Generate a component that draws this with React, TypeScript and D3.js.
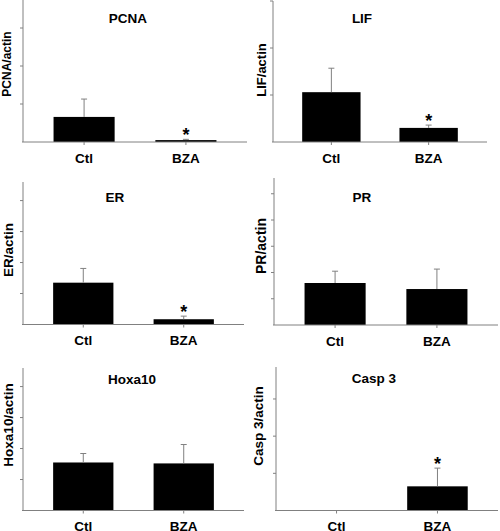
import React from "react";
import * as d3 from "d3";

// ---- data ----
const categories = ["Ctl", "BZA"];
const genes = ["PCNA", "LIF", "ER", "PR", "Hoxa10", "Casp 3"];
const yLabels = ["PCNA/actin", "LIF/actin", "ER/actin", "PR/actin", "Hoxa10/actin", "Casp 3/actin"];
const ctlMeans = [0.66, 1.06, 1.35, 1.6, 1.55, 0];
const ctlErrs = [0.47, 0.51, 0.46, 0.45, 0.29, 0];
const bzaMeans = [0.05, 0.3, 0.17, 1.37, 1.52, 0.65];
const bzaErrs = [0.02, 0.06, 0.1, 0.76, 0.61, 0.49];
const bzaSignificant = [true, true, true, false, false, true];
const yMaxes = [4, 3, 4.6, 5.6, 4.6, 3.86];

// ---- layout ----
const axisXs = [23, 273, 23, 274, 23, 276];
const xEnds = [247, 487, 244, 498, 244, 498];
const baseYs = [142, 142, 324.5, 325, 510.5, 510.5];
const topYs = [-10, 1, 182, 178, 368, 367];
const titlePos = [[128, 23], [362, 23], [115, 202], [362, 202], [132, 384], [374, 383]];
const yLabelPos = [[11, 64], [266, 70], [13, 250], [266, 246], [13, 425], [263, 426]];
const yLabelSizes = [12, 13, 13.5, 14, 13.5, 13.5];

const FONT = "'Liberation Sans', Arial, sans-serif";
const AXIS = "#808080";

function Panel({ i }: { i: number }) {
  const x = d3
    .scaleBand<string>()
    .domain(categories)
    .range([axisXs[i], xEnds[i]])
    .paddingInner(0.4)
    .paddingOuter(0.3);
  const y = d3.scaleLinear().domain([0, yMaxes[i]]).range([baseYs[i], topYs[i]]);
  const ticks = d3.range(1, Math.floor(yMaxes[i]) + 1);
  const means = [ctlMeans[i], bzaMeans[i]];
  const errs = [ctlErrs[i], bzaErrs[i]];
  const stars = [false, bzaSignificant[i]];
  const ax = axisXs[i];
  const by = baseYs[i];
  return (
    <g>
      {categories.map((c, k) =>
        means[k] > 0 ? (
          <rect
            key={"b" + c}
            x={x(c)!}
            width={x.bandwidth()}
            y={y(means[k])}
            height={by - y(means[k])}
            fill="#000"
          />
        ) : null
      )}
      {categories.map((c, k) => {
        if (errs[k] <= 0) return null;
        const cx = x(c)! + x.bandwidth() / 2;
        const t = y(means[k] + errs[k]);
        return (
          <g key={"e" + c} stroke={AXIS} strokeWidth={1}>
            <line x1={cx} x2={cx} y1={y(means[k])} y2={t} />
            <line x1={cx - 3} x2={cx + 3} y1={t} y2={t} />
          </g>
        );
      })}
      {categories.map((c, k) =>
        stars[k] ? (
          <text
            key={"s" + c}
            x={x(c)! + x.bandwidth() / 2}
            y={y(means[k] + errs[k]) + 2}
            textAnchor="middle"
            fontFamily={FONT}
            fontWeight="bold"
            fontSize={18}
          >
            *
          </text>
        ) : null
      )}
      <line x1={ax} x2={ax} y1={by} y2={topYs[i]} stroke={AXIS} />
      <line x1={ax - 1} x2={xEnds[i]} y1={by} y2={by} stroke={AXIS} />
      {ticks.map((t) => (
        <line key={"t" + t} x1={ax - 3} x2={ax} y1={y(t)} y2={y(t)} stroke={AXIS} />
      ))}
      {categories.map((c) => {
        const cx = x(c)! + x.bandwidth() / 2;
        return <line key={"xt" + c} x1={cx} x2={cx} y1={by} y2={by + 3} stroke={AXIS} />;
      })}
      {categories.map((c) => (
        <text
          key={"xl" + c}
          x={x(c)! + x.bandwidth() / 2}
          y={by + 20.5}
          textAnchor="middle"
          fontFamily={FONT}
          fontWeight="bold"
          fontSize={13.5}
        >
          {c}
        </text>
      ))}
      <text
        x={titlePos[i][0]}
        y={titlePos[i][1]}
        textAnchor="middle"
        fontFamily={FONT}
        fontWeight="bold"
        fontSize={13.5}
      >
        {genes[i]}
      </text>
      <text
        transform={`translate(${yLabelPos[i][0]},${yLabelPos[i][1]}) rotate(-90)`}
        textAnchor="middle"
        fontFamily={FONT}
        fontWeight="bold"
        fontSize={yLabelSizes[i]}
      >
        {yLabels[i]}
      </text>
    </g>
  );
}

export default function App() {
  return (
    <svg
      width={500}
      height={531}
      style={{ position: "absolute", left: 0, top: 0, background: "#fff" }}
    >
      <rect width={500} height={531} fill="#fff" />
      {genes.map((g, i) => (
        <Panel key={g} i={i} />
      ))}
    </svg>
  );
}
